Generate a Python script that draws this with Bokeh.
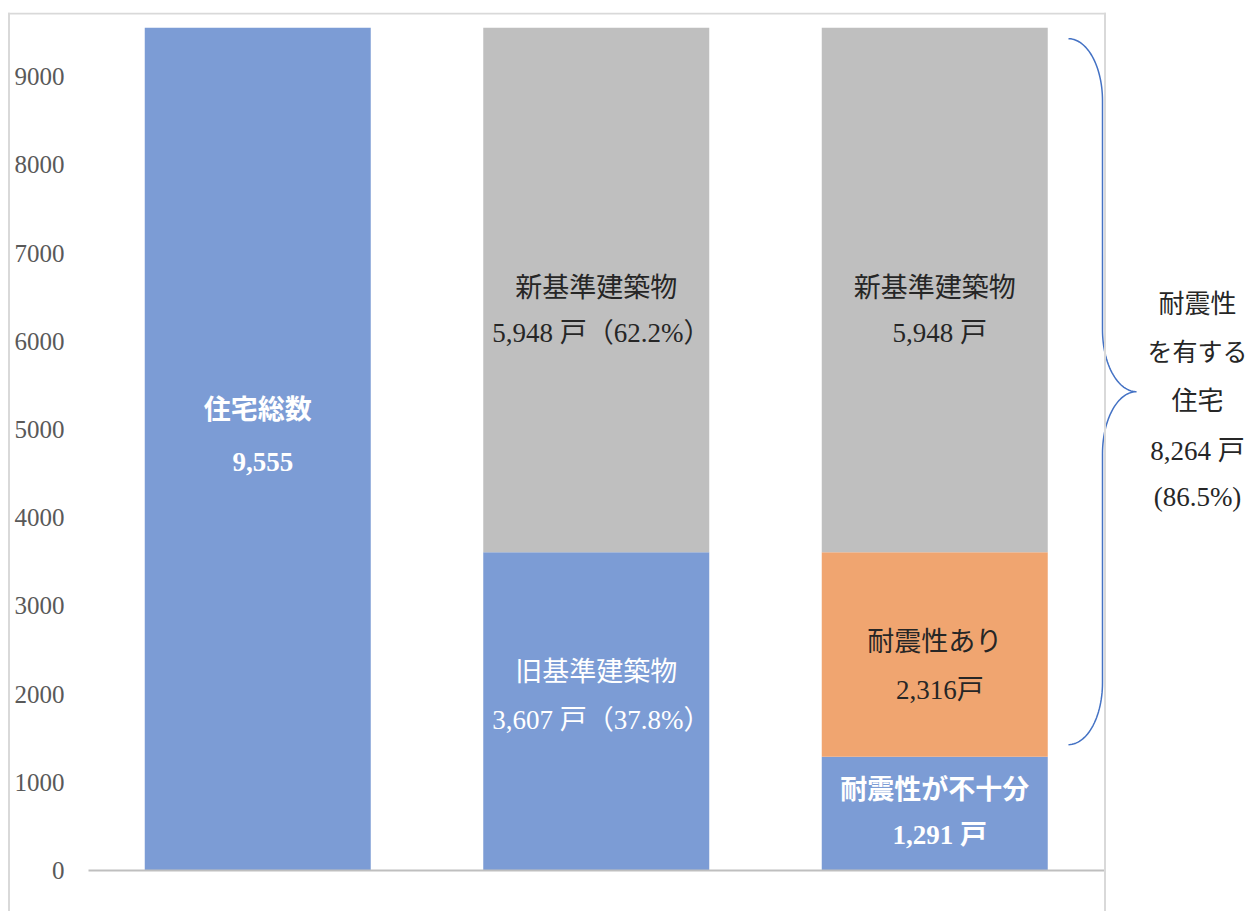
import numpy as np
from bokeh.plotting import figure
from bokeh.models import ColumnDataSource, Span
from bokeh.core.properties import value
from bokeh.embed import file_html
from bokeh.resources import INLINE

# ---------------- data ----------------
bar_x = [0.5, 1.5, 2.5]
total_housing = [9555]                 # 住宅総数
old_vs_new = [3607, 5948]              # 旧基準 / 新基準
seismic_split = [1291, 2316, 5948]     # 耐震性が不十分 / 耐震性あり / 新基準
stacks = [total_housing, old_vs_new, seismic_split]

seg_titles = [["住宅総数"],
              ["旧基準建築物", "新基準建築物"],
              ["耐震性が不十分", "耐震性あり", "新基準建築物"]]
seg_counts = [["9,555"],
              ["3,607 戸（37.8%）", "5,948 戸（62.2%）"],
              ["1,291 戸", "2,316戸", "5,948 戸"]]

tick_values = [0, 1000, 2000, 3000, 4000, 5000, 6000, 7000, 8000, 9000]
tick_labels = ["0", "1000", "2000", "3000", "4000", "5000", "6000", "7000", "8000", "9000"]

side_lines = ["耐震性", "を有する", "住宅", "8,264 戸", "(86.5%)"]

# ---------------- styles ----------------
BLUE = "#7C9CD5"
GRAY = "#BFBFBF"
ORANGE = "#F0A570"
stack_colors = [[BLUE], [BLUE, GRAY], [BLUE, ORANGE, GRAY]]
# (text color, bold, offset line1 px, offset line2 px)
seg_styles = [[("white", True, -39, 13)],
              [("white", False, -39, 9), ("#262626", False, -2, 43)],
              [("white", True, -24, 21), ("#262626", False, -12, 36), ("#262626", False, -2, 43)]]
side_sizes = ["26px", "25px", "26px", "27px", "27px"]

FONT = value("'Liberation Serif', 'Noto Sans CJK JP'")

W, H = 1253, 911
K = 0.0882      # px per unit
Y0 = 870        # screen y of value 0
X0 = 88         # screen x of category start
CAT = 338.5     # px per category
TOP = 12        # screen y of frame top


def dx(px):
    return (px - X0) / CAT


def dy(py):
    return (Y0 - py) / K


p = figure(width=W, height=H,
           x_range=(dx(0), dx(W)), y_range=(dy(H), dy(TOP)),
           x_axis_location=None, y_axis_location=None,
           toolbar_location=None, output_backend="svg",
           min_border_left=0, min_border_right=0, min_border_bottom=0, min_border_top=TOP,
           outline_line_color=None, background_fill_color="white", border_fill_color="white")
p.grid.visible = False

# outer chart box
p.add_layout(Span(location=dx(8.5), dimension="height", line_color="#D9D9D9", line_width=2))
p.add_layout(Span(location=dx(1104.5), dimension="height", line_color="#D9D9D9", line_width=2))
p.segment(x0=[dx(7.5)], y0=[dy(13)], x1=[dx(1105.5)], y1=[dy(13)], line_color="#D9D9D9", line_width=2)

# bars
xs, bottoms, tops, colors = [], [], [], []
for x, vals, cols in zip(bar_x, stacks, stack_colors):
    cum = np.concatenate([[0], np.cumsum(vals)])
    for i, v in enumerate(vals):
        xs.append(x)
        bottoms.append(cum[i])
        tops.append(cum[i + 1])
        colors.append(cols[i])
src = ColumnDataSource(dict(x=xs, bottom=bottoms, top=tops, color=colors))
p.vbar(x="x", width=226 / CAT, bottom="bottom", top="top", fill_color="color", line_color=None, source=src)

# baseline
p.segment(x0=[0], y0=[0], x1=[3], y1=[0], line_color="#BFBFBF", line_width=2)

# y tick labels
p.text(x=[dx(64)] * len(tick_values), y=tick_values, text=tick_labels,
       text_align="right", text_baseline="middle", text_color="#595959",
       text_font=value("Liberation Serif"), text_font_size="25px")

# segment labels
for x, vals, titles, counts, styles in zip(bar_x, stacks, seg_titles, seg_counts, seg_styles):
    cum = np.concatenate([[0], np.cumsum(vals)])
    for i in range(len(vals)):
        mid = (cum[i] + cum[i + 1]) / 2
        color, bold, o1, o2 = styles[i]
        fs = "bold" if bold else "normal"
        p.text(x=[x], y=[mid - o1 / K], text=[titles[i]], text_align="center", text_baseline="middle",
               text_color=color, text_font=FONT, text_font_size="27px", text_font_style=fs)
        p.text(x=[x + 0.015], y=[mid - o2 / K], text=[counts[i]], text_align="center", text_baseline="middle",
               text_color=color, text_font=FONT, text_font_size="27px", text_font_style=fs)

# bracket for 耐震性を有する住宅
br_top = Y0 - K * sum(seismic_split) + 11
br_bot = Y0 - K * seismic_split[0] - 12
br_mid = (br_top + br_bot) / 2
t = np.linspace(0, np.pi / 2, 30)
R = 62
px = np.concatenate([1068 + 34 * np.sin(t),
                     1136 - 34 * np.cos(t),
                     1136 - 34 * np.sin(t),
                     1068 + 34 * np.cos(t)])
py = np.concatenate([br_top + R - R * np.cos(t),
                     br_mid - R + R * np.sin(t),
                     br_mid + R - R * np.cos(t),
                     br_bot - R + R * np.sin(t)])
p.line(x=dx(px), y=dy(py), line_color="#4472C4", line_width=1.5)

side_off = [-87, -39, 10, 59, 105]
for line, off, size in zip(side_lines, side_off, side_sizes):
    p.text(x=[dx(1197)], y=[dy(br_mid + off)], text=[line],
           text_align="center", text_baseline="middle", text_color="#262626",
           text_font=FONT, text_font_size=size)

open("out.html", "w").write(file_html(p, INLINE))
